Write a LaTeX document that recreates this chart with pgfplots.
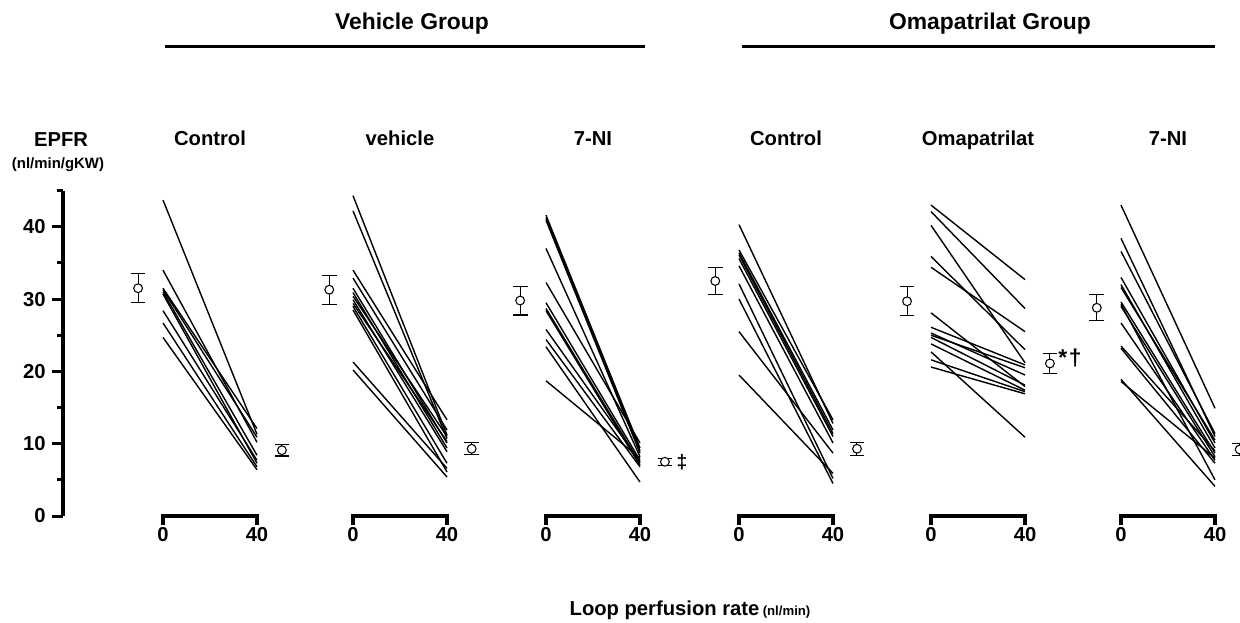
\documentclass[border=0pt]{standalone}
\usepackage{fontspec}
\setmainfont{Liberation Sans}
\usepackage{pgfplots}
\pgfplotsset{compat=1.18}

\newcommand{\seg}[2]{\addplot[black, line width=0.8pt] coordinates {(0,#1) (40,#2)};}
\newcommand{\fs}[1]{\fontsize{#1}{#1}\selectfont\bfseries}

\pgfplotsset{
  panel/.style={
    x=0.047cm, y=0.1446cm,
    xmin=0, xmax=40, ymin=0, ymax=45,
    axis x line*=bottom, axis y line=none,
    x axis line style={line width=1.8pt, -, line cap=rect},
    xtick={0,40}, ytick=\empty,
    tick align=outside, major tick length=5pt,
    xtick style={line width=1.8pt, black},
    xticklabel style={font=\fs{11.5}, inner sep=1.5pt},
    /pgf/number format/assume math mode=true,
    clip=false, anchor=origin,
  },
  means/.style={
    black, only marks, mark=*, mark size=2.5pt,
    mark options={fill=white, line width=0.6pt},
    error bars/.cd, y dir=both, y explicit,
    error bar style={line width=0.6pt},
    error mark options={rotate=90, mark size=4.2pt, line width=0.6pt},
  },
}

\begin{document}
\begin{tikzpicture}
\useasboundingbox (0,0) rectangle (24.8,-12.44);

% group titles
\node[font=\fs{13}, anchor=base] at (8.24,-0.58) {Vehicle Group};
\draw[line width=0.06cm] (3.30,-0.92) -- (12.90,-0.92);
\node[font=\fs{13}, anchor=base] at (19.80,-0.58) {Omapatrilat Group};
\draw[line width=0.06cm] (14.84,-0.92) -- (24.30,-0.92);

% y axis
\begin{axis}[
  at={(1.26cm,-10.32cm)}, anchor=origin,
  x=1cm, y=0.1446cm, xmin=0, xmax=1, ymin=0, ymax=45,
  axis y line*=left, axis x line=none,
  y axis line style={line width=2.2pt, -},
  ytick={0,10,20,30,40}, minor ytick={5,15,25,35,45},
  tick align=outside, major tick length=6.3pt, minor tick length=3.4pt,
  every tick/.style={black, line width=1.7pt},
  yticklabel style={font=\fs{11.5}},
  /pgf/number format/assume math mode=true,
  clip=false,
]
\addplot[draw=none] coordinates {(0,0)};
\end{axis}
\node[font=\fs{11.5}, anchor=base] at (1.22,-2.92) {EPFR};
\node[font=\fs{8.5}, anchor=base] at (1.16,-3.36) {(nl/min/gKW)};

% Panel 1: Vehicle group, Control
\begin{axis}[panel, at={(3.26cm,-10.32cm)}]
\seg{43.7}{11.3}
\seg{34.0}{10.2}
\seg{31.5}{12.1}
\seg{31.3}{10.9}
\seg{31.0}{8.4}
\seg{30.7}{7.3}
\seg{28.4}{7.7}
\seg{26.7}{6.8}
\seg{24.7}{6.4}
\addplot[means] coordinates {(-10.6,31.5) +- (0,2.0) (50.6,9.1) +- (0,0.8)};
\node[font=\fs{11.5}, anchor=base] at (axis cs:20,51.3) {Control};
\end{axis}

% Panel 2: Vehicle group, vehicle
\begin{axis}[panel, at={(7.06cm,-10.32cm)}]
\seg{44.3}{11.2}
\seg{42.2}{10.7}
\seg{34.0}{13.3}
\seg{32.9}{11.9}
\seg{31.5}{10.1}
\seg{30.9}{9.4}
\seg{30.4}{11.0}
\seg{29.9}{8.9}
\seg{29.4}{10.3}
\seg{29.0}{7.3}
\seg{28.5}{6.1}
\seg{21.3}{6.6}
\seg{20.2}{5.4}
\addplot[means] coordinates {(-10.1,31.3) +- (0,2.0) (50.5,9.3) +- (0,0.85)};
\node[font=\fs{11.5}, anchor=base] at (axis cs:20,51.3) {vehicle};
\end{axis}

% Panel 3: Vehicle group, 7-NI
\begin{axis}[panel, at={(10.92cm,-10.32cm)}]
\seg{41.6}{9.4}
\seg{41.2}{9.0}
\seg{40.9}{8.7}
\seg{37.0}{8.2}
\seg{32.3}{10.1}
\seg{29.5}{7.7}
\seg{28.7}{7.3}
\seg{28.4}{7.0}
\seg{25.8}{7.5}
\seg{24.4}{6.8}
\seg{23.4}{4.7}
\seg{18.7}{8.0}
\addplot[means] coordinates {(-11.0,29.8) +- (0,2.0) (50.6,7.5) +- (0,0.45)};
\node[font=\fs{11.5}, anchor=base] at (axis cs:20,51.3) {7-NI};
\node[font=\fs{11}] at (axis cs:57.9,7.4) {‡};
\end{axis}

% Panel 4: Omapatrilat group, Control
\begin{axis}[panel, at={(14.78cm,-10.32cm)}]
\seg{40.3}{12.8}
\seg{36.8}{13.3}
\seg{36.4}{11.9}
\seg{36.1}{11.4}
\seg{35.6}{11.0}
\seg{34.6}{10.1}
\seg{32.1}{5.2}
\seg{30.0}{4.5}
\seg{25.5}{8.7}
\seg{19.5}{5.9}
\addplot[means] coordinates {(-10.1,32.5) +- (0,1.9) (50.2,9.3) +- (0,0.9)};
\node[font=\fs{11.5}, anchor=base] at (axis cs:20,51.3) {Control};
\end{axis}

% Panel 5: Omapatrilat group, Omapatrilat
\begin{axis}[panel, at={(18.62cm,-10.32cm)}]
\seg{43.0}{32.7}
\seg{42.1}{28.7}
\seg{40.2}{21.2}
\seg{35.9}{23.0}
\seg{34.4}{25.5}
\seg{28.1}{17.9}
\seg{26.1}{20.9}
\seg{25.3}{19.5}
\seg{25.0}{20.5}
\seg{24.7}{18.1}
\seg{23.8}{17.4}
\seg{22.7}{10.9}
\seg{21.6}{17.2}
\seg{20.6}{16.9}
\addplot[means] coordinates {(-10.2,29.7) +- (0,2.0) (50.6,21.1) +- (0,1.4)};
\node[font=\fs{11.5}, anchor=base] at (axis cs:20,51.3) {Omapatrilat};
\node[font=\fs{13}, anchor=west, inner sep=0pt] at (axis cs:54.0,21.9) {*\kern1pt†};
\end{axis}

% Panel 6: Omapatrilat group, 7-NI
\begin{axis}[panel, at={(22.42cm,-10.32cm)}]
\seg{43.0}{14.9}
\seg{38.4}{11.0}
\seg{36.6}{11.4}
\seg{33.0}{10.1}
\seg{32.0}{9.4}
\seg{31.6}{10.5}
\seg{29.6}{8.7}
\seg{29.3}{5.0}
\seg{29.0}{8.2}
\seg{26.7}{7.7}
\seg{23.5}{9.0}
\seg{23.2}{7.3}
\seg{18.9}{4.1}
\seg{18.6}{8.0}
\addplot[means] coordinates {(-10.3,28.8) +- (0,1.8) (50.5,9.2) +- (0,0.8)};
\node[font=\fs{11.5}, anchor=base] at (axis cs:20,51.3) {7-NI};
\end{axis}

% x label
\node[font=\fs{11.5}, anchor=base] at (13.80,-12.30) {Loop perfusion rate\,{\fs{7.5}(nl/min)}};
\end{tikzpicture}
\end{document}
